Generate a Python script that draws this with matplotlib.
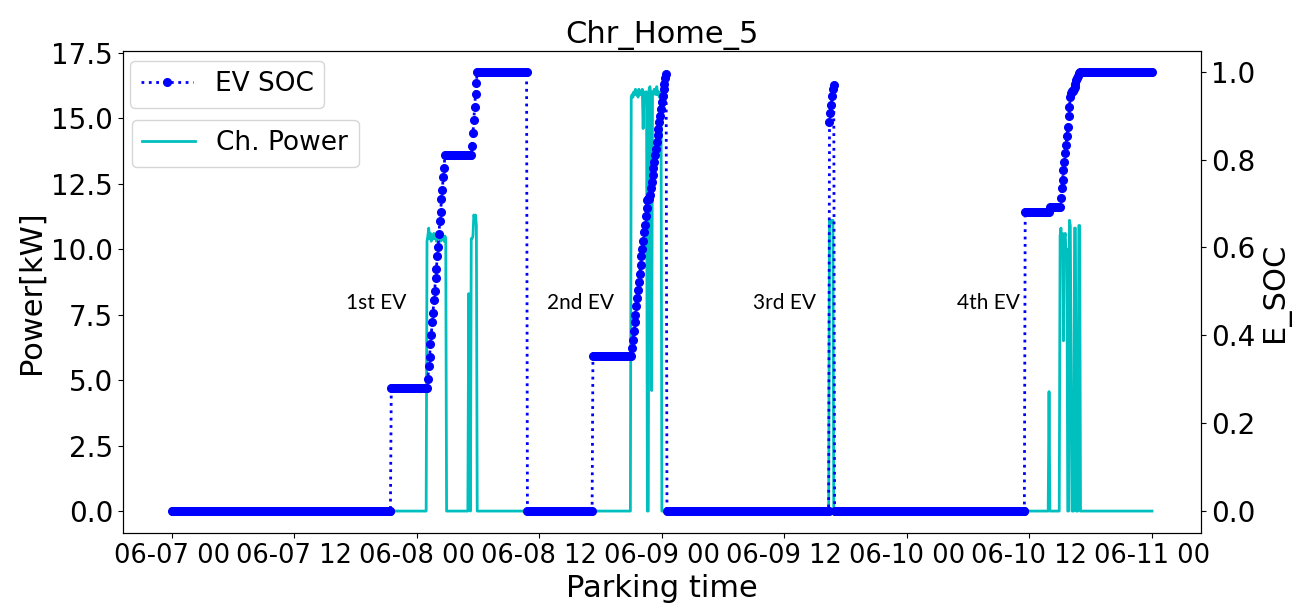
import matplotlib
matplotlib.use("Agg")
import matplotlib.dates as mdates
import matplotlib.pyplot as plt
import numpy as np
import pandas as pd

# Time axis: 5 min steps over four days
year = "2023-"
t_start = "06-07 00:00"
t_end = "06-11 00:00"
step = "5min"

# SOC jumps at arrival / departure, held until the next change
soc_jump_times = ["06-07 00:00", "06-07 21:30", "06-08 10:50", "06-08 17:15", "06-09 00:30",
                  "06-09 16:25", "06-09 16:55", "06-10 11:35", "06-10 14:00"]
soc_jump_values = [0.0, 0.28, 0.0, 0.353, 0.0, 0.886, 0.0, 0.681, 0.693]

# SOC while charging, one value per step from the start time
soc_ramp_starts = ["06-08 01:05", "06-08 05:25", "06-08 21:05", "06-09 16:30", "06-10 15:05"]
soc_ramp_1a = [0.30, 0.33, 0.35, 0.38, 0.40, 0.43, 0.45, 0.48, 0.50, 0.53, 0.55,
               0.58, 0.60, 0.63, 0.66, 0.68, 0.71, 0.73, 0.76, 0.78, 0.81]
soc_ramp_1b = [0.83, 0.86, 0.89, 0.92, 0.95, 0.975, 1.0]
soc_ramp_2 = [0.372, 0.39, 0.41, 0.43, 0.447, 0.466, 0.485, 0.503, 0.522, 0.54,
              0.56, 0.58, 0.597, 0.615, 0.634, 0.652, 0.671, 0.69, 0.708, 0.71, 0.71,
              0.72, 0.735, 0.75, 0.765, 0.78, 0.795, 0.81, 0.825, 0.84, 0.855,
              0.87, 0.885, 0.90, 0.915, 0.93, 0.945, 0.96, 0.972, 0.985, 0.995]
soc_ramp_3 = [0.905, 0.925, 0.945, 0.96, 0.97]
soc_ramp_4 = [0.712, 0.735, 0.753, 0.776, 0.795, 0.814, 0.833, 0.854, 0.875, 0.898,
              0.92, 0.943, 0.952, 0.955, 0.957, 0.96, 0.965, 0.973, 0.98, 0.985,
              0.99, 0.996, 1.0]

# Charging power blocks [kW], zero elsewhere
power_starts = ["06-08 01:00", "06-08 05:05", "06-08 21:00", "06-09 16:25",
                "06-10 13:55", "06-10 15:00"]
power_1a = [10.3, 10.5, 10.8, 10.4, 10.6, 10.3, 10.5, 10.4, 10.6, 10.4, 10.5, 10.3,
            10.4, 10.5, 10.4, 10.5, 10.3, 10.4, 10.5, 10.4, 10.3, 10.5, 10.4]
power_1b = [8.3, 4.4, 0.0, 10.4, 10.4, 10.5, 11.3, 11.2, 11.3, 10.9]
power_2 = [15.8, 15.9, 15.8, 16.0, 15.9, 16.1, 15.9, 16.0, 15.8, 16.1, 15.9, 16.0,
           15.9, 16.1, 14.6, 15.9, 16.0, 15.9, 16.0, 0.0, 0.0, 16.1, 16.2, 15.9,
           4.6, 16.0, 15.9, 16.1, 16.0, 15.9, 16.2, 15.9, 16.0, 15.8, 15.9, 16.0]
power_3 = [11.1, 11.0, 11.1, 11.0, 11.1]
power_4a = [4.56]
power_4b = [10.5, 10.8, 10.1, 10.6, 6.5, 10.4, 10.6, 9.8, 10.0, 0.0, 0.0, 11.1,
            10.9, 5.5, 0.0, 0.0, 0.0, 10.8, 10.8, 0.0, 0.0, 0.0, 10.9, 10.9]

ev_labels = ["1st EV", "2nd EV", "3rd EV", "4th EV"]
ev_label_times = ["06-07 20:00", "06-08 16:00", "06-09 12:00", "06-10 08:00"]


def ts(s):
    return pd.Timestamp(year + s)


# Build the series
idx = pd.date_range(ts(t_start), ts(t_end), freq=step)

soc = pd.Series(np.nan, index=idx)
for t, v in zip(soc_jump_times, soc_jump_values):
    soc[ts(t)] = v
soc_ramps = [soc_ramp_1a, soc_ramp_1b, soc_ramp_2, soc_ramp_3, soc_ramp_4]
for t, vals in zip(soc_ramp_starts, soc_ramps):
    pos = idx.get_loc(ts(t))
    soc.iloc[pos:pos + len(vals)] = vals
soc = soc.ffill()

power = pd.Series(0.0, index=idx)
power_blocks = [power_1a, power_1b, power_2, power_3, power_4a, power_4b]
for t, vals in zip(power_starts, power_blocks):
    pos = idx.get_loc(ts(t))
    power.iloc[pos:pos + len(vals)] = vals

# Plot
fig, ax1 = plt.subplots(figsize=(13.07, 6.11), dpi=100)
fig.subplots_adjust(left=0.0939, right=0.9189, top=0.9165, bottom=0.1277)
ax2 = ax1.twinx()

p_line, = ax1.plot(idx, power, color='c', linewidth=2, label='Ch. Power')
s_line, = ax2.plot(idx, soc, linestyle=':', color='blue', marker='o',
                   markersize=5.5, linewidth=2, label='EV SOC')

ax1.set_ylim(-0.836, 17.56)
ax2.set_ylim(-0.05, 1.047)
ax1.set_xlim(ts(t_start) - pd.Timedelta(hours=4.8), ts(t_end) + pd.Timedelta(hours=4.8))

ax1.set_yticks([0, 2.5, 5, 7.5, 10, 12.5, 15, 17.5])
ax2.set_yticks([0, 0.2, 0.4, 0.6, 0.8, 1.0])

ax1.xaxis.set_major_locator(mdates.HourLocator(byhour=[0, 12]))
ax1.xaxis.set_major_formatter(mdates.DateFormatter('%m-%d %H'))

ax1.tick_params(axis='x', labelsize=18.5)
ax1.tick_params(axis='y', labelsize=20)
ax2.tick_params(labelsize=20)

ax1.set_ylabel('Power[kW]', fontsize=22)
ax2.set_ylabel('E_SOC', fontsize=22)
ax1.set_xlabel('Parking time', fontsize=22)
ax1.set_title('Chr_Home_5', fontsize=22)

for lab, t in zip(ev_labels, ev_label_times):
    ax1.text(ts(t), 7.95, lab, ha='center', va='center', fontsize=15,
             family=['Lato', 'DejaVu Sans'])

leg1 = ax2.legend(handles=[s_line], loc='upper left', bbox_to_anchor=(0.0068, 0.980),
                  borderaxespad=0, fontsize=19)
ax2.add_artist(leg1)
ax2.legend(handles=[p_line], loc='upper left', bbox_to_anchor=(0.0083, 0.857),
           borderaxespad=0, fontsize=19)

plt.savefig('out.png', dpi=100)
